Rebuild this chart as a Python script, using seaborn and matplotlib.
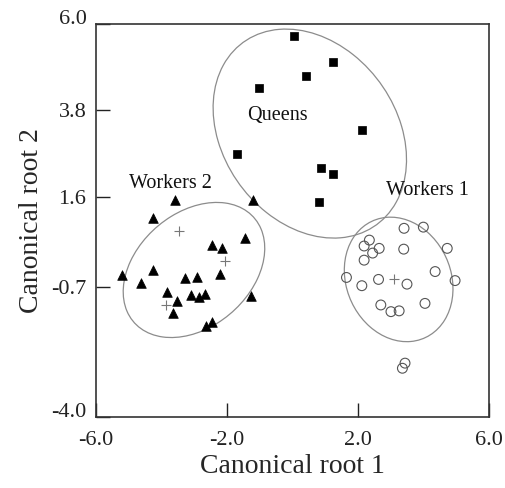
import numpy as np
import pandas as pd
import matplotlib
matplotlib.use("Agg")
import matplotlib.pyplot as plt
from matplotlib.patches import Ellipse
import seaborn as sns

# ---- data ----
queens_x = [0.04, 1.23, 0.42, -1.03, 2.14, -1.68, 0.87, 1.23, 0.82]
queens_y = [5.69, 5.03, 4.68, 4.38, 3.30, 2.69, 2.33, 2.18, 1.46]

workers2_x = [-3.59, -1.21, -4.25, -1.46, -2.46, -2.15, -5.22, -4.25, -4.64, -3.29, -2.93,
              -2.20, -3.82, -3.52, -3.11, -2.85, -2.68, -1.28, -3.66, -2.65, -2.46]
workers2_y = [1.52, 1.52, 1.06, 0.55, 0.38, 0.29, -0.40, -0.26, -0.60, -0.47, -0.43,
              -0.36, -0.81, -1.05, -0.90, -0.96, -0.88, -0.92, -1.36, -1.68, -1.58]

workers1_x = [3.41, 4.00, 2.35, 2.19, 2.65, 2.45, 3.40, 4.73, 2.19, 4.36, 1.65,
              2.63, 3.50, 4.97, 2.12, 2.70, 3.01, 3.26, 4.05, 3.44, 3.36]
workers1_y = [0.80, 0.83, 0.50, 0.35, 0.29, 0.17, 0.27, 0.29, -0.01, -0.30, -0.45,
              -0.50, -0.62, -0.53, -0.66, -1.15, -1.32, -1.30, -1.11, -2.63, -2.76]

cross_x = [-3.47, -2.07, -3.88, 3.09]
cross_y = [0.72, -0.03, -1.15, -0.50]

ell_cx = [0.53, -3.01, 3.245]
ell_cy = [3.21, -0.26, -0.50]
ell_w = [6.33, 4.60, 3.49]
ell_h = [4.81, 3.06, 2.98]
ell_angle = [-33.4, 27.1, -36.2]

labels = ["Queens", "Workers 2", "Workers 1"]
label_x = [-0.47, -3.73, 4.13]
label_y = [3.66, 1.94, 1.76]

xticks = [-6.0, -2.0, 2.0, 6.0]
yticks = [-4.0, -0.7, 1.6, 3.8, 6.0]

# ---- style ----
sns.set_style("ticks")
plt.rcParams["font.family"] = ["Liberation Serif", "DejaVu Serif"]

fig = plt.figure(figsize=(5.06, 4.88), dpi=100)
ax = fig.add_axes([0.190, 0.1455, 0.776, 0.8055])

dq = pd.DataFrame({"x": queens_x, "y": queens_y})
d2 = pd.DataFrame({"x": workers2_x, "y": workers2_y})
d1 = pd.DataFrame({"x": workers1_x, "y": workers1_y})

sns.scatterplot(data=dq, x="x", y="y", marker="s", color="black", s=38,
                edgecolor="black", linewidth=0.5, ax=ax, zorder=3)
sns.scatterplot(data=d2, x="x", y="y", marker="^", color="black", s=48,
                edgecolor="black", linewidth=0.5, ax=ax, zorder=3)
sns.scatterplot(data=d1, x="x", y="y", marker="o", facecolor="none", s=50,
                edgecolor="#555555", linewidth=0.8, ax=ax, zorder=3)
ax.scatter(cross_x, cross_y, marker="+", color="#777777", s=50, linewidth=0.8, zorder=3)

for cx, cy, w, h, a in zip(ell_cx, ell_cy, ell_w, ell_h, ell_angle):
    ax.add_patch(Ellipse((cx, cy), w, h, angle=a, fill=False,
                         edgecolor="#8c8c8c", linewidth=0.9, zorder=2))

for t, lx, ly in zip(labels, label_x, label_y):
    ax.text(lx, ly, t, ha="center", va="center", fontsize=14.5, color="#111111")

ax.set_xlim(-6, 6)
ax.set_ylim(-4, 6)
ax.set_xticks(xticks)
ax.set_xticklabels([f"{v:.1f}" for v in xticks])
ax.set_yticks(yticks)
ax.set_yticklabels([f"{v:.1f}" for v in yticks])
ax.tick_params(direction="in", length=10, width=1, labelsize=16, colors="#222222",
               top=False, right=False)
ax.tick_params(axis="x", pad=10)
ax.tick_params(axis="y", pad=7)
ylabs = ax.get_yticklabels()
ylabs[0].set_va("baseline")
ylabs[-1].set_va("baseline")
for sp in ax.spines.values():
    sp.set_visible(True)
    sp.set_color("#333333")
    sp.set_linewidth(1.2)

ax.set_xlabel("Canonical root 1", fontsize=20, labelpad=3)
ax.set_ylabel("Canonical root 2", fontsize=20, labelpad=5)

fig.savefig("out.png", dpi=100)
